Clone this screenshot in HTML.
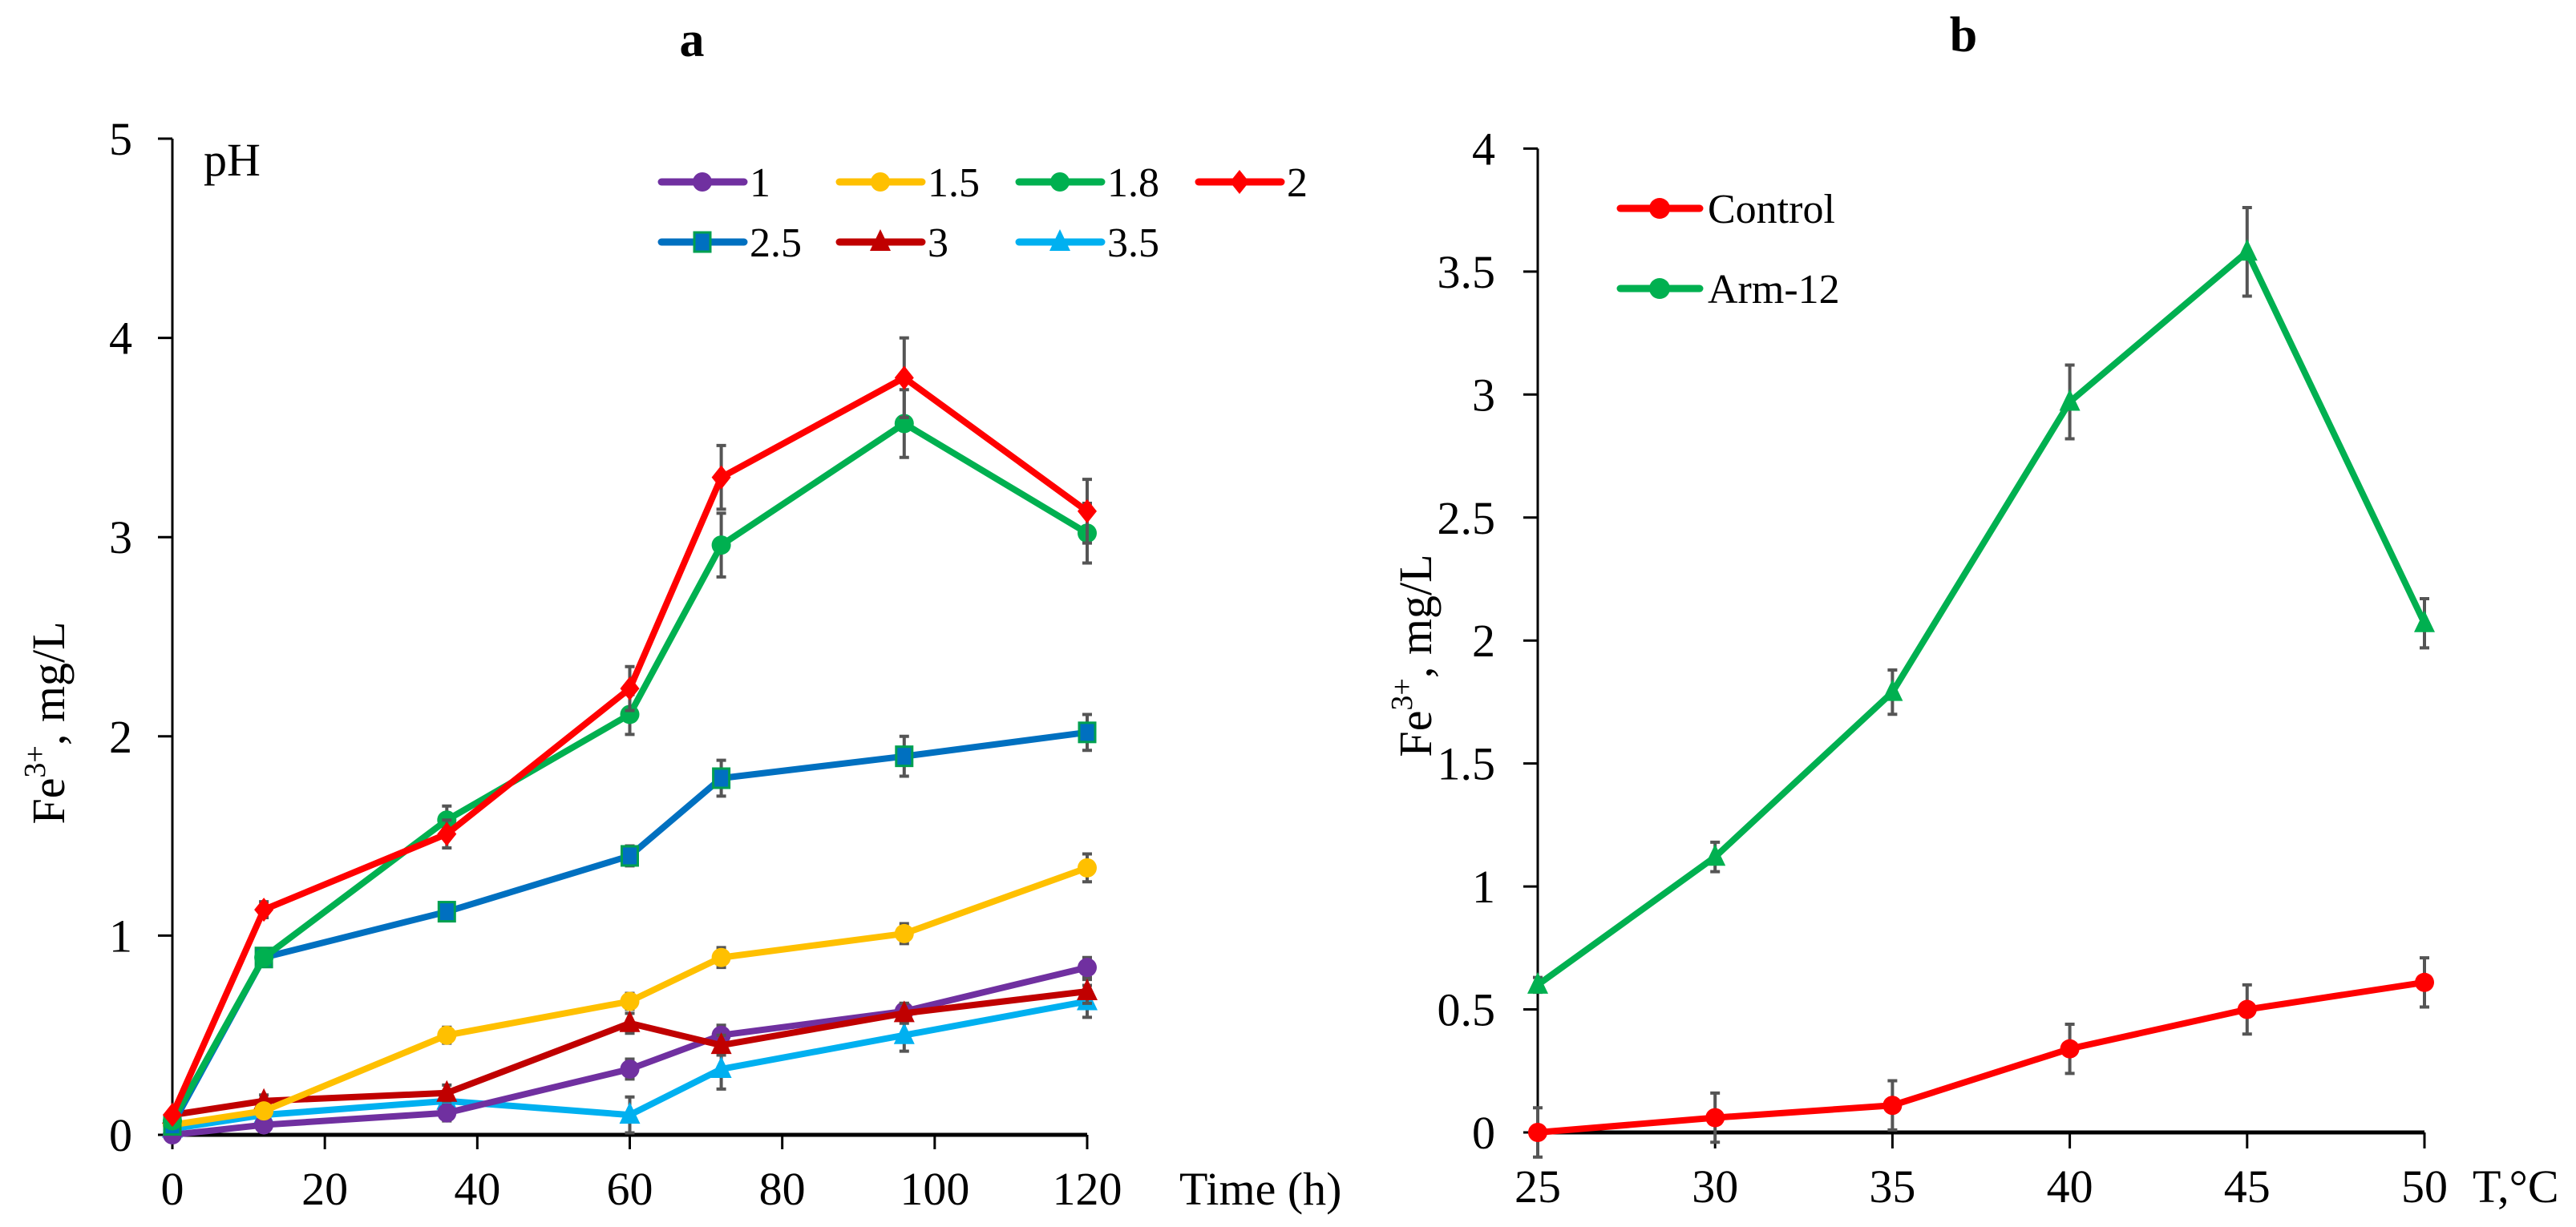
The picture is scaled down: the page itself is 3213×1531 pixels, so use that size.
<!DOCTYPE html>
<html><head><meta charset="utf-8"><style>
html,body{margin:0;padding:0;background:#fff;}
svg{display:block;font-family:"Liberation Serif",serif;}
</style></head><body>
<svg id="fig" width="3213" height="1531" viewBox="0 0 3213 1531" xmlns="http://www.w3.org/2000/svg">
<rect width="3213" height="1531" fill="#fff"/>
<g id="pa"></g>
<g id="pb"></g>
</svg>
<script>
// ---- Chart a data ----
const timesA = [0, 12, 36, 60, 72, 96, 120];
const xTicksA = [0, 20, 40, 60, 80, 100, 120];
const yTicksA = [0, 1, 2, 3, 4, 5];
const seriesNamesA = ["1", "1.5", "1.8", "2", "2.5", "3", "3.5"];
const ph1 = [0.00, 0.05, 0.11, 0.33, 0.50, 0.62, 0.84];
const ph15 = [0.05, 0.12, 0.50, 0.67, 0.89, 1.01, 1.34];
const ph18 = [0.07, 0.89, 1.58, 2.11, 2.96, 3.57, 3.02];
const ph2 = [0.10, 1.13, 1.51, 2.24, 3.30, 3.80, 3.13];
const ph25 = [0.05, 0.89, 1.12, 1.40, 1.79, 1.90, 2.02];
const ph3 = [0.10, 0.17, 0.21, 0.56, 0.45, 0.61, 0.72];
const ph35 = [0.03, 0.10, 0.17, 0.10, 0.33, 0.50, 0.67];
const err1 = [0.02, 0.03, 0.04, 0.05, 0.05, 0.04, 0.05];
const err15 = [0.02, 0.03, 0.04, 0.04, 0.05, 0.05, 0.07];
const err18 = [0.02, 0.03, 0.07, 0.10, 0.16, 0.17, 0.15];
const err2 = [0.02, 0.04, 0.07, 0.11, 0.16, 0.20, 0.16];
const err25 = [0.02, 0.03, 0.04, 0.05, 0.09, 0.10, 0.09];
const err3 = [0.02, 0.03, 0.04, 0.05, 0.05, 0.05, 0.06];
const err35 = [0.02, 0.03, 0.05, 0.09, 0.10, 0.08, 0.08];
// ---- Chart b data ----
const tempsB = [25, 30, 35, 40, 45, 50];
const yTicksB = [0, 0.5, 1, 1.5, 2, 2.5, 3, 3.5, 4];
const seriesNamesB = ["Control", "Arm-12"];
const control = [0.00, 0.06, 0.11, 0.34, 0.50, 0.61];
const controlErr = [0.10, 0.10, 0.10, 0.10, 0.10, 0.10];
const arm12 = [0.60, 1.12, 1.79, 2.97, 3.58, 2.07];
const arm12Err = [0.03, 0.06, 0.09, 0.15, 0.18, 0.10];

const NS = "http://www.w3.org/2000/svg";
function mk(parent, tag, attrs, text) {
  const e = document.createElementNS(NS, tag);
  for (const k in attrs) e.setAttribute(k, attrs[k]);
  if (text !== undefined) e.textContent = text;
  parent.appendChild(e);
  return e;
}
const xA = v => 215 + (v / 120) * (1356 - 215);
const yA = v => 1416 - v * 248.6;
const xB = v => 1918 + ((v - 25) / 25) * (3024 - 1918);
const yB = v => 1413 - v * 306.9;

function marker(g, shape, cx, cy, color, stroke) {
  const r = 12;
  let m;
  if (shape === "circle") m = mk(g, "circle", {cx, cy, r, fill: color});
  else if (shape === "diamond") m = mk(g, "polygon", {points: `${cx},${cy-r-3} ${cx+r},${cy} ${cx},${cy+r+3} ${cx-r},${cy}`, fill: color});
  else if (shape === "square") m = mk(g, "rect", {x: cx-10, y: cy-12, width: 20, height: 24, fill: color, stroke: stroke || color, "stroke-width": 3});
  else m = mk(g, "polygon", {points: `${cx},${cy-r-4} ${cx+r+1},${cy+r-1} ${cx-r-1},${cy+r-1}`, fill: color});
  return m;
}

// ----- Chart a -----
const pa = document.getElementById("pa");
let t = mk(pa, "text", {x: 863, y: 70, "font-size": 62, "font-weight": "bold", "text-anchor": "middle"}, "a");


let ax = mk(pa, "line", {x1: 215, y1: yA(5), x2: 215, y2: yA(0), stroke: "#000", "stroke-width": 3});


let bx = mk(pa, "line", {x1: 215, y1: yA(0), x2: xA(120), y2: yA(0), stroke: "#000", "stroke-width": 5});


yTicksA.forEach(v => {
  const l = mk(pa, "line", {x1: 197, y1: yA(v), x2: 215, y2: yA(v), stroke: "#000", "stroke-width": 3});
  
  
  const tx = mk(pa, "text", {x: 165, y: yA(v) + 20, "font-size": 58, "text-anchor": "end"}, String(v));
  
  
});
xTicksA.forEach(v => {
  const l = mk(pa, "line", {x1: xA(v), y1: yA(0), x2: xA(v), y2: yA(0) + 18, stroke: "#000", "stroke-width": 3});
  
  
  const tx = mk(pa, "text", {x: xA(v), y: 1503, "font-size": 58, "text-anchor": "middle"}, String(v));
  
  
});
t = mk(pa, "text", {x: 1471, y: 1503, "font-size": 58}, "Time (h)");


t = mk(pa, "text", {x: 80, y: 902, "font-size": 58, "text-anchor": "middle", transform: "rotate(-90 80 902)"});


t.innerHTML = 'Fe<tspan font-size="38" dy="-24">3+</tspan><tspan dy="24">, mg/L</tspan>';
t = mk(pa, "text", {x: 254, y: 219, "font-size": 58}, "pH");



const dataA = [ph1, ph15, ph18, ph2, ph25, ph3, ph35];
const errA = [err1, err15, err18, err2, err25, err3, err35];
const colorsA = ["#7030A0", "#FFC000", "#00B050", "#FF0000", "#0070C0", "#C00000", "#00B0F0"];
const shapesA = ["circle", "circle", "circle", "diamond", "square", "triangle", "triangle"];
const order = [6, 0, 5, 1, 4, 2, 3];
order.forEach(i => {
  const g = mk(pa, "g", {});
  
  
  dataA[i].forEach((v, j) => {
    const x = xA(timesA[j]);
    const e = errA[i][j];
    const eb = mk(g, "path", {d: `M${x},${yA(v+e)}V${yA(v-e)}M${x-6},${yA(v+e)}h12M${x-6},${yA(v-e)}h12`, stroke: "#555", "stroke-width": 4, fill: "none"});
    
    
  });
  const pts = dataA[i].map((v, j) => `${xA(timesA[j])},${yA(v)}`).join(" ");
  const pl = mk(g, "polyline", {points: pts, fill: "none", stroke: colorsA[i], "stroke-width": 8, "stroke-linejoin": "round"});
  
  
  dataA[i].forEach((v, j) => {
    const m = marker(g, shapesA[i], xA(timesA[j]), yA(v), colorsA[i], i === 4 ? "#00A050" : null);
    
    
  });
});
// legend a
const legA = mk(pa, "g", {});


const legX = [825, 1047, 1271, 1495];
const legY = [227, 302];
seriesNamesA.forEach((n, i) => {
  const col = i % 4, row = Math.floor(i / 4);
  const x = legX[col], y = legY[row];
  const g = mk(legA, "g", {});
  
  
  mk(g, "line", {x1: x, y1: y, x2: x + 103, y2: y, stroke: colorsA[i], "stroke-width": 9, "stroke-linecap": "round"});
  marker(g, shapesA[i], x + 51, y, colorsA[i], i === 4 ? "#00A050" : null);
  mk(g, "text", {x: x + 110, y: y + 18, "font-size": 52}, n);
});

// ----- Chart b -----
const pb = document.getElementById("pb");
t = mk(pb, "text", {x: 2449, y: 64, "font-size": 62, "font-weight": "bold", "text-anchor": "middle"}, "b");


ax = mk(pb, "line", {x1: 1918, y1: yB(4), x2: 1918, y2: yB(0), stroke: "#000", "stroke-width": 3});


bx = mk(pb, "line", {x1: 1918, y1: yB(0), x2: xB(50), y2: yB(0), stroke: "#000", "stroke-width": 5});


yTicksB.forEach(v => {
  const l = mk(pb, "line", {x1: 1900, y1: yB(v), x2: 1918, y2: yB(v), stroke: "#000", "stroke-width": 3});
  
  
  const tx = mk(pb, "text", {x: 1865, y: yB(v) + 20, "font-size": 58, "text-anchor": "end"}, String(v));
  
  
});
tempsB.forEach(v => {
  const l = mk(pb, "line", {x1: xB(v), y1: yB(0), x2: xB(v), y2: yB(0) + 20, stroke: "#000", "stroke-width": 3});
  
  
  const tx = mk(pb, "text", {x: xB(v), y: 1500, "font-size": 58, "text-anchor": "middle"}, String(v));
  
  
});
t = mk(pb, "text", {x: 3084, y: 1500, "font-size": 58}, "T,°C");


t = mk(pb, "text", {x: 1785, y: 818, "font-size": 58, "text-anchor": "middle", transform: "rotate(-90 1785 818)"});


t.innerHTML = 'Fe<tspan font-size="38" dy="-24">3+</tspan><tspan dy="24">, mg/L</tspan>';

const dataB = [control, arm12];
const errB = [controlErr, arm12Err];
const colorsB = ["#FF0000", "#00B050"];
const shapesB = ["circle", "triangle"];
[1, 0].forEach(i => {
  const g = mk(pb, "g", {});
  
  
  dataB[i].forEach((v, j) => {
    const x = xB(tempsB[j]);
    const e = errB[i][j];
    const eb = mk(g, "path", {d: `M${x},${yB(v+e)}V${yB(v-e)}M${x-6},${yB(v+e)}h12M${x-6},${yB(v-e)}h12`, stroke: "#555", "stroke-width": 4, fill: "none"});
    
    
  });
  const pts = dataB[i].map((v, j) => `${xB(tempsB[j])},${yB(v)}`).join(" ");
  const pl = mk(g, "polyline", {points: pts, fill: "none", stroke: colorsB[i], "stroke-width": 8, "stroke-linejoin": "round"});
  
  
  dataB[i].forEach((v, j) => {
    const m = marker(g, shapesB[i], xB(tempsB[j]), yB(v), colorsB[i]);
    
    
  });
});
const legB = mk(pb, "g", {});


const legYB = [260, 360];
seriesNamesB.forEach((n, i) => {
  const g = mk(legB, "g", {});
  
  
  const y = legYB[i];
  mk(g, "line", {x1: 2021, y1: y, x2: 2120, y2: y, stroke: colorsB[i], "stroke-width": 9, "stroke-linecap": "round"});
  mk(g, "circle", {cx: 2070, cy: y, r: 13, fill: colorsB[i]});
  mk(g, "text", {x: 2130, y: y + 18, "font-size": 52}, n);
});
</script>
</body></html>
